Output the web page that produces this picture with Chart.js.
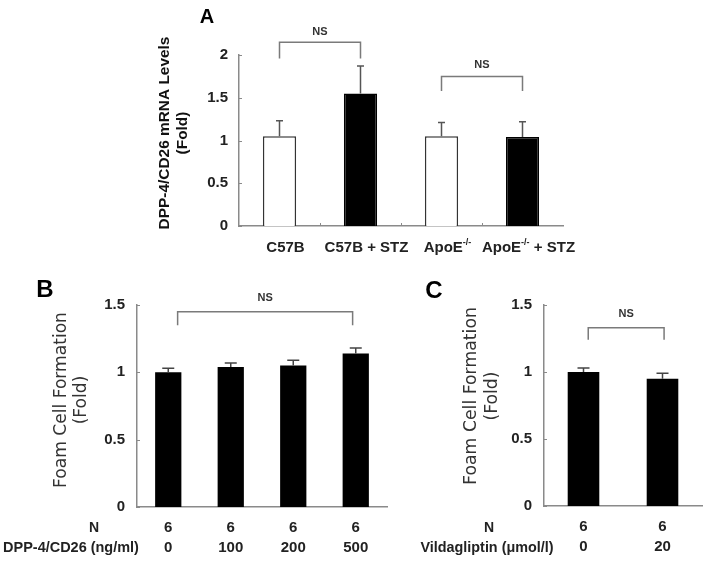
<!DOCTYPE html>
<html><head><meta charset="utf-8">
<script src="https://cdn.jsdelivr.net/npm/chart.js@4.4.0/dist/chart.umd.min.js"></script>
<style>
html,body{margin:0;padding:0;background:#fff;}
#wrap{position:relative;width:706px;height:563px;overflow:hidden;background:#fff;}
canvas{position:absolute;left:0;top:0;}
</style></head><body>
<div id="wrap">
<canvas id="cA" width="706" height="563"></canvas>
<canvas id="cB" width="706" height="563"></canvas>
<canvas id="cC" width="706" height="563"></canvas>
</div>
<script>
// ---------- DATA ----------
// Panel A
const catsA = ['C57B', 'C57B + STZ', 'ApoE-/-', 'ApoE-/- + STZ'];
const valsA = [1.05, 1.55, 1.05, 1.04];
const errA  = [0.18, 0.32, 0.16, 0.18];
const yTicksA = [0, 0.5, 1, 1.5, 2];
const yTickLabelsA = ['0', '0.5', '1', '1.5', '2'];
const nsA = [ {from: 0, to: 1, y: 2.15, leg: 1.96, text: 'NS', ty: 2.27},
              {from: 2, to: 3, y: 1.75, leg: 1.58, text: 'NS', ty: 1.88} ];
// Panel B
const nB    = ['6', '6', '6', '6'];
const doseB = ['0', '100', '200', '500'];
const valsB = [1.00, 1.04, 1.05, 1.14];
const errB  = [0.03, 0.03, 0.04, 0.04];
const yTicksB = [0, 0.5, 1, 1.5];
const yTickLabelsB = ['0', '0.5', '1', '1.5'];
const nsB = [ {from: 0.15, to: 2.95, y: 1.45, leg: 1.35, text: 'NS', ty: 1.55} ];
// Panel C
const nC    = ['6', '6'];
const doseC = ['0', '20'];
const valsC = [1.00, 0.95];
const errC  = [0.03, 0.04];
const yTicksC = [0, 0.5, 1, 1.5];
const yTickLabelsC = ['0', '0.5', '1', '1.5'];
const nsC = [ {from: 0.06, to: 1.02, y: 1.33, leg: 1.24, text: 'NS', ty: 1.43} ];

// ---------- STYLE ----------
const W = 706, H = 563;
const AXIS = '#8a8a8a';
const ARIAL = '"Liberation Sans", Arial, sans-serif';
const ROUND = '"DejaVu Sans", sans-serif';

function fitSize(ctx, text, target, weight, family) {
  ctx.font = weight + ' 20px ' + family;
  return 20 * target / ctx.measureText(text).width;
}

function makeExtras(p) {
  return {
    id: 'extras_' + p.id,
    afterDatasetsDraw(chart) {
      const ctx = chart.ctx, ys = chart.scales.y;
      const meta = chart.getDatasetMeta(0);
      ctx.save();
      ctx.strokeStyle = p.errColor; ctx.lineWidth = 1.5;
      meta.data.forEach((el, i) => {
        const top = ys.getPixelForValue(p.values[i] + p.errors[i]);
        ctx.beginPath();
        ctx.moveTo(el.x, el.y); ctx.lineTo(el.x, top);
        ctx.moveTo(el.x - p.capW / 2, top); ctx.lineTo(el.x + p.capW / 2, top);
        ctx.stroke();
      });
      ctx.restore();
    },
    afterDraw(chart) {
      const ctx = chart.ctx, xs = chart.scales.x, ys = chart.scales.y;
      const area = chart.chartArea;
      ctx.save();
      ctx.strokeStyle = AXIS; ctx.lineWidth = 1;
      ys.ticks.forEach(t => {
        const py = Math.round(ys.getPixelForValue(t.value)) + 0.5;
        ctx.beginPath(); ctx.moveTo(area.left, py); ctx.lineTo(area.left + 3, py); ctx.stroke();
      });
      if (p.xMarks) {
        for (let i = 0; i < p.labels.length - 1; i++) {
          const px = Math.round(xs.getPixelForValue(i + 0.5)) + 0.5;
          ctx.beginPath(); ctx.moveTo(px, area.bottom); ctx.lineTo(px, area.bottom - 3); ctx.stroke();
        }
      }
      ctx.strokeStyle = '#7a7a7a'; ctx.lineWidth = 1.5;
      p.brackets.forEach(b => {
        const x1 = xs.getPixelForValue(b.from), x2 = xs.getPixelForValue(b.to);
        const yy = ys.getPixelForValue(b.y), yl = ys.getPixelForValue(b.leg);
        ctx.beginPath();
        ctx.moveTo(x1, yl); ctx.lineTo(x1, yy); ctx.lineTo(x2, yy); ctx.lineTo(x2, yl);
        ctx.stroke();
        ctx.fillStyle = '#333'; ctx.font = 'bold 11px ' + ARIAL;
        ctx.textAlign = 'center'; ctx.textBaseline = 'middle';
        ctx.fillText(b.text, (x1 + x2) / 2, ys.getPixelForValue(b.ty));
      });
      ctx.fillStyle = '#000'; ctx.font = 'bold ' + p.letter.size + 'px ' + ARIAL;
      ctx.textAlign = 'center'; ctx.textBaseline = 'middle';
      ctx.fillText(p.letter.text, p.letter.x, p.letter.y);
      const t = p.yTitle;
      const sz = fitSize(ctx, t.lines[0], t.len, t.weight, t.family);
      ctx.font = t.weight + ' ' + sz.toFixed(2) + 'px ' + t.family;
      ctx.fillStyle = t.color;
      t.lines.forEach((line, k) => {
        ctx.save();
        ctx.translate(t.xs[k], t.cy);
        ctx.rotate(-Math.PI / 2);
        ctx.textAlign = 'center'; ctx.textBaseline = 'middle';
        ctx.fillText(line, 0, 0);
        ctx.restore();
      });
      (p.rows || []).forEach(r => {
        const s = r.len ? fitSize(ctx, r.text, r.len, 'bold', ARIAL) : r.size;
        ctx.font = 'bold ' + s.toFixed(2) + 'px ' + ARIAL;
        ctx.fillStyle = '#222'; ctx.textAlign = 'center'; ctx.textBaseline = 'middle';
        ctx.fillText(r.text, r.x, r.y);
      });
      if (p.customX) {
        ctx.fillStyle = '#222'; ctx.textBaseline = 'middle'; ctx.textAlign = 'left';
        const big = 'bold 15px ' + ARIAL, small = 'bold 9px ' + ARIAL;
        p.labels.forEach((lab, i) => {
          const parts = [];
          const m = lab.split('-/-');
          if (m.length > 1) {
            parts.push({t: m[0], f: big, dy: 0});
            parts.push({t: '-/-', f: small, dy: -5});
            if (m[1]) parts.push({t: m[1], f: big, dy: 0});
          } else parts.push({t: lab, f: big, dy: 0});
          let tw = 0;
          parts.forEach(q => { ctx.font = q.f; q.w = ctx.measureText(q.t).width; tw += q.w; });
          let px = xs.getPixelForValue(i) + p.customX.dx - tw / 2;
          parts.forEach(q => { ctx.font = q.f; ctx.fillText(q.t, px, p.customX.y + q.dy); px += q.w; });
        });
      }
      ctx.restore();
    }
  };
}

function makePanel(p) {
  const yW = 60, xH = 60;
  const ticks = p.yTicks;
  return new Chart(document.getElementById(p.canvas), {
    type: 'bar',
    data: {
      labels: p.labels,
      datasets: [{
        data: p.values,
        backgroundColor: p.fills,
        borderColor: p.borders,
        borderWidth: p.borderW,
        borderSkipped: 'bottom',
        barPercentage: p.barPct,
        categoryPercentage: 1
      }]
    },
    options: {
      responsive: false, animation: false, devicePixelRatio: 1,
      layout: { padding: { left: p.area.left - yW, top: p.area.top, right: W - p.area.right, bottom: H - p.area.bottom - xH } },
      plugins: { legend: { display: false }, tooltip: { enabled: false }, title: { display: false } },
      scales: {
        x: {
          grid: { display: false, drawTicks: false },
          border: { display: true, color: AXIS, width: 1.5 },
          afterFit: s => { s.height = xH; },
          ticks: {
            display: !p.customX,
            color: '#222', padding: p.xPad, maxRotation: 0, autoSkip: false,
            font: { family: ARIAL, weight: 'bold', size: 15, lineHeight: '20px' }
          }
        },
        y: {
          min: 0, max: ticks[ticks.length - 1],
          afterBuildTicks: s => { s.ticks = ticks.map(v => ({ value: v })); },
          afterFit: s => { s.width = yW; },
          grid: { display: false, drawTicks: false },
          border: { display: true, color: AXIS, width: 1.5 },
          ticks: {
            color: '#222', padding: p.yPad, font: { family: ARIAL, weight: 'bold', size: 15 },
            callback: (v) => { const k = ticks.indexOf(v); return k >= 0 ? p.yTickLabels[k] : ''; }
          }
        }
      }
    },
    plugins: [makeExtras(p)]
  });
}

makePanel({
  id: 'A', canvas: 'cA',
  area: { left: 239, top: 55, right: 563, bottom: 226 },
  labels: catsA, values: valsA, errors: errA, yTicks: yTicksA, yTickLabels: yTickLabelsA,
  fills: ['#ffffff', '#000000', '#ffffff', '#000000'],
  borders: ['#333333', '#000000', '#333333', '#000000'], borderW: 1.5,
  barPct: 0.41, capW: 7, errColor: '#555', yPad: 11, xPad: 10,
  brackets: nsA, xMarks: true,
  customX: { y: 248, dx: 6 },
  letter: { text: 'A', x: 207, y: 17, size: 20 },
  yTitle: { lines: ['DPP-4/CD26 mRNA Levels', '(Fold)'], xs: [165, 183], cy: 133, len: 193,
            weight: 'bold', family: ARIAL, color: '#111' }
});

makePanel({
  id: 'B', canvas: 'cB',
  area: { left: 137, top: 305, right: 387, bottom: 507 },
  labels: doseB.map((d, i) => [nB[i], d]), values: valsB, errors: errB, yTicks: yTicksB, yTickLabels: yTickLabelsB,
  fills: '#000000', borders: '#000000', borderW: 0,
  barPct: 0.42, capW: 12, errColor: '#444', yPad: 12, xPad: 11,
  brackets: nsB,
  rows: [ { text: 'N', x: 94, y: 528, size: 14 },
          { text: 'DPP-4/CD26 (ng/ml)', x: 71, y: 548, len: 136 } ],
  letter: { text: 'B', x: 45, y: 290, size: 24 },
  yTitle: { lines: ['Foam Cell Formation', '(Fold)'], xs: [62, 82], cy: 400, len: 176,
            weight: 'normal', family: ROUND, color: '#333' }
});

makePanel({
  id: 'C', canvas: 'cC',
  area: { left: 544, top: 305, right: 702, bottom: 506 },
  labels: doseC.map((d, i) => [nC[i], d]), values: valsC, errors: errC, yTicks: yTicksC, yTickLabels: yTickLabelsC,
  fills: '#000000', borders: '#000000', borderW: 0,
  barPct: 0.40, capW: 12, errColor: '#444', yPad: 12, xPad: 11,
  brackets: nsC,
  rows: [ { text: 'N', x: 489, y: 528, size: 14 },
          { text: 'Vildagliptin (\u03bcmol/l)', x: 487, y: 548, len: 133 } ],
  letter: { text: 'C', x: 434, y: 291, size: 24 },
  yTitle: { lines: ['Foam Cell Formation', '(Fold)'], xs: [472, 493], cy: 396, len: 178,
            weight: 'normal', family: ROUND, color: '#333' }
});
</script>
</body></html>
